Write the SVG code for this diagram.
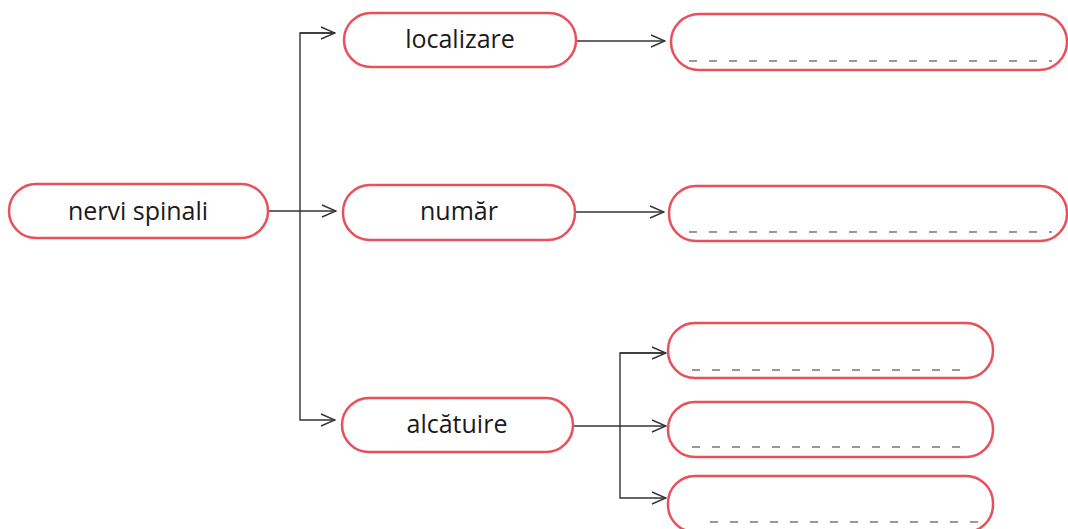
<svg xmlns="http://www.w3.org/2000/svg" width="1068" height="529" viewBox="0 0 1068 529">
<defs>
<style>
.box{fill:#fff;stroke:#e8505b;stroke-width:2.5}
.lbl{font-family:"Open Sans","Noto Sans",sans-serif;font-size:25px;fill:#1a1a1a;text-anchor:middle;dominant-baseline:central}
.dash{stroke:#777;stroke-width:1.6;stroke-dasharray:8 12;fill:none}
.conn{stroke:#333;stroke-width:1.4;fill:none}
</style>
<marker id="arr" markerWidth="16" markerHeight="14" refX="15" refY="7" orient="auto" markerUnits="userSpaceOnUse">
<path d="M1,1 L15,7 L1,13" fill="none" stroke="#333" stroke-width="1.4"/>
</marker>
</defs>
<rect width="1068" height="529" fill="#fff"/>
<g id="connectors">
<line class="conn" x1="268" y1="211" x2="336" y2="211" marker-end="url(#arr)"/>
<polyline class="conn" points="335,33 300,33 300,420 335,420" marker-end="url(#arr)"/>
<line class="conn" x1="300" y1="33" x2="335" y2="33" marker-end="url(#arr)"/>
<line class="conn" x1="576" y1="41" x2="665" y2="41" marker-end="url(#arr)"/>
<line class="conn" x1="575" y1="212" x2="664" y2="212" marker-end="url(#arr)"/>
<line class="conn" x1="573" y1="426" x2="666" y2="426" marker-end="url(#arr)"/>
<polyline class="conn" points="666,353 620,353 620,498 666,498" marker-end="url(#arr)"/>
<line class="conn" x1="620" y1="353" x2="666" y2="353" marker-end="url(#arr)"/>
</g>
<g id="nervi-spinali">
<rect class="box" x="9" y="184" width="259" height="54" rx="27"/>
<text class="lbl" x="138" y="210">nervi spinali</text>
</g>
<g id="localizare">
<rect class="box" x="344" y="13" width="232" height="54" rx="27"/>
<text class="lbl" x="460" y="38">localizare</text>
</g>
<g id="numar">
<rect class="box" x="343" y="185" width="232" height="55" rx="27"/>
<text class="lbl" x="459" y="210">număr</text>
</g>
<g id="alcatuire">
<rect class="box" x="342" y="398" width="231" height="54" rx="27"/>
<text class="lbl" x="457" y="423">alcătuire</text>
</g>
<g id="blank-localizare">
<rect class="box" x="671" y="14" width="396" height="56" rx="28"/>
<line class="dash" x1="689" y1="61" x2="1052" y2="61"/>
</g>
<g id="blank-numar">
<rect class="box" x="669" y="186" width="398" height="55" rx="27"/>
<line class="dash" x1="689" y1="232" x2="1052" y2="232"/>
</g>
<g id="blank-alcatuire-1">
<rect class="box" x="668" y="323" width="325" height="55" rx="27"/>
<line class="dash" x1="692" y1="370" x2="972" y2="370"/>
</g>
<g id="blank-alcatuire-2">
<rect class="box" x="668" y="402" width="325" height="55" rx="27"/>
<line class="dash" x1="692" y1="447" x2="972" y2="447"/>
</g>
<g id="blank-alcatuire-3">
<rect class="box" x="668" y="476" width="325" height="56" rx="27"/>
<line class="dash" x1="710" y1="522" x2="990" y2="522"/>
</g>
</svg>
